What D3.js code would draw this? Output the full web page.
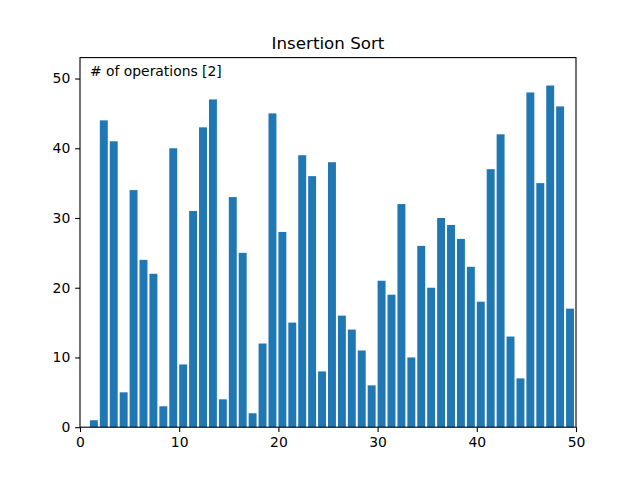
<!DOCTYPE html>
<html>
<head>
<meta charset="utf-8">
<script src="https://cdn.jsdelivr.net/npm/d3@7"></script>
<style>
html,body{margin:0;padding:0;background:#fff;}
text{font-family:"DejaVu Sans",sans-serif;}
</style>
</head>
<body>
<svg id="chart" width="640" height="480"></svg>
<script>
const title = "Insertion Sort";
const annotation = "# of operations [2]";
const positions = d3.range(1, 50);
const values = [1,44,41,5,34,24,22,3,40,9,31,43,47,4,33,25,2,12,45,28,15,39,36,8,38,
                16,14,11,6,21,19,32,10,26,20,30,29,27,23,18,37,42,13,7,48,35,49,46,17];
const xTicks = [0,10,20,30,40,50];
const yTicks = [0,10,20,30,40,50];

const svg = d3.select("#chart");
const L = 80, R = 576, T = 57.6, B = 427.2;
const x = d3.scaleLinear().domain([0,50]).range([L,R]);
const y = d3.scaleLinear().domain([0,53]).range([B,T]);

svg.append("rect").attr("width",640).attr("height",480).attr("fill","#fff");

svg.append("g").selectAll("rect").data(positions).join("rect")
  .attr("x", (d)=>x(d))
  .attr("width", (d)=>x(d+0.8)-x(d))
  .attr("y", (d,i)=>y(values[i]))
  .attr("height", (d,i)=>y(0)-y(values[i]))
  .attr("fill","#1f77b4");

const xa = svg.append("g").attr("transform",`translate(0,${B})`)
  .call(d3.axisBottom(x).tickValues(xTicks).tickSize(4.86).tickPadding(4.86).tickFormat(d3.format("d")));
const ya = svg.append("g").attr("transform",`translate(${L},0)`)
  .call(d3.axisLeft(y).tickValues(yTicks).tickSize(4.86).tickPadding(4.86).tickFormat(d3.format("d")));
[xa,ya].forEach(a=>{
  a.select(".domain").remove();
  a.selectAll("line").attr("stroke","#000").attr("stroke-width",1.1);
  a.selectAll("text").attr("font-family","DejaVu Sans").attr("font-size","13.9px").attr("fill","#000");
});

svg.append("rect").attr("x",L).attr("y",T).attr("width",R-L).attr("height",B-T)
  .attr("fill","none").attr("stroke","#000").attr("stroke-width",1.1);

svg.append("text").attr("x",(L+R)/2).attr("y",T-8.3).attr("text-anchor","middle")
  .attr("font-size","16.7px").attr("fill","#000").text(title);

svg.append("text").attr("x",L+0.02*(R-L)).attr("y",T+0.05*(B-T))
  .attr("font-size","13.9px").attr("fill","#000").text(annotation);
</script>
</body>
</html>
